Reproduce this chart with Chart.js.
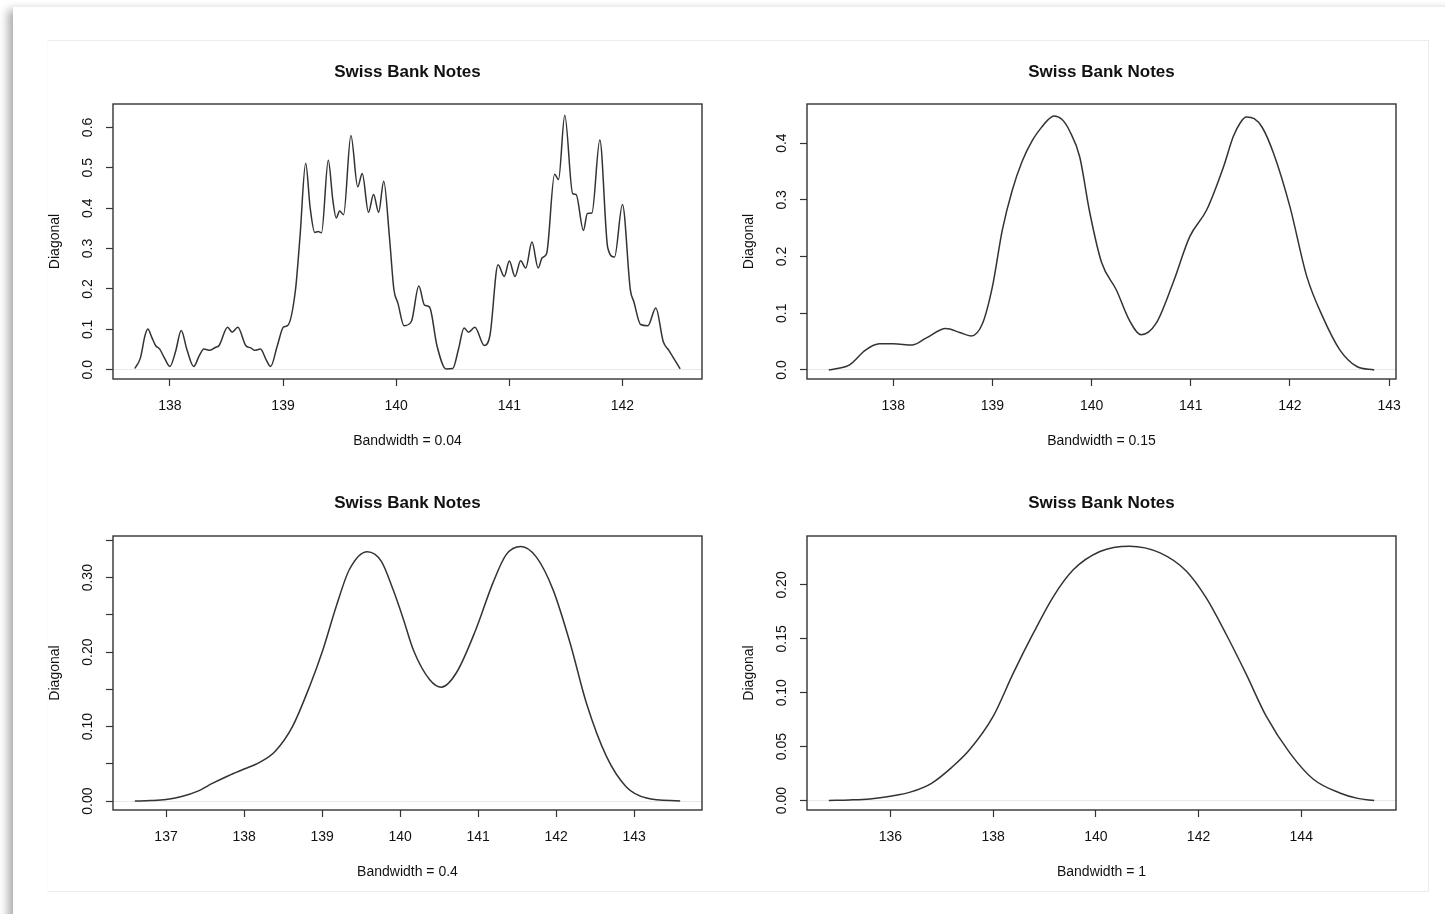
<!doctype html>
<html lang="en">
<head>
  <meta charset="utf-8">
  <title>Swiss Bank Notes</title>
  <script src="https://cdn.jsdelivr.net/npm/chart.js"></script>
  <style>
    html, body {
      margin: 0;
      padding: 0;
      background: #ffffff;
      width: 1445px;
      height: 914px;
      overflow: hidden;
    }
    /* sheet with a soft shadow on its left edge */
    #sheet {
      position: absolute;
      left: 13px;
      top: 7px;
      width: 1470px;
      height: 940px;
      background: #ffffff;
      box-shadow: -5px 3px 9px rgba(0, 0, 0, 0.33);
    }
    #frame {
      position: absolute;
      left: 47px;
      top: 40px;
      width: 1380px;
      height: 850px;
      border: 1px solid #ececec;
      border-left-color: #fbfbfb;
    }
    canvas { position: absolute; }
  </style>
</head>
<body>
  <div id="sheet"></div>
  <div id="frame"></div>
  <canvas id="bw004" width="680" height="410" style="left:40px;top:50px"></canvas>
  <canvas id="bw015" width="680" height="410" style="left:734px;top:50px"></canvas>
  <canvas id="bw04" width="680" height="410" style="left:40px;top:482px"></canvas>
  <canvas id="bw1" width="680" height="410" style="left:734px;top:482px"></canvas>

  <script>
    // Kernel density estimates of the Diagonal measurement, four bandwidths

    // bandwidth = 0.04
    const diag004 = [137.69, 137.74, 137.78, 137.805, 137.84, 137.873, 137.91, 137.95, 138.0, 138.05,
      138.10, 138.15, 138.21, 138.26, 138.30, 138.355, 138.40, 138.435, 138.51, 138.55,
      138.60, 138.67, 138.715, 138.75, 138.80, 138.85, 138.89, 138.95, 139.005, 139.04,
      139.11, 139.15, 139.20, 139.24, 139.28, 139.31, 139.34, 139.40, 139.44, 139.47,
      139.50, 139.535, 139.60, 139.66, 139.70, 139.755, 139.80, 139.845, 139.89, 139.94,
      139.98, 140.015, 140.07, 140.135, 140.20, 140.25, 140.295, 140.36, 140.44, 140.50,
      140.55, 140.60, 140.64, 140.695, 140.78, 140.83, 140.90, 140.955, 141.00, 141.05,
      141.10, 141.145, 141.20, 141.255, 141.29, 141.33, 141.40, 141.435, 141.49, 141.56,
      141.59, 141.655, 141.69, 141.73, 141.80, 141.87, 141.93, 142.00, 142.07, 142.10,
      142.16, 142.225, 142.295, 142.36, 142.41, 142.51];
    const dens004 = [0.003, 0.03, 0.085, 0.101, 0.08, 0.06, 0.051, 0.03, 0.008, 0.045,
      0.097, 0.05, 0.008, 0.035, 0.051, 0.048, 0.055, 0.06, 0.105, 0.093,
      0.105, 0.06, 0.054, 0.048, 0.051, 0.025, 0.008, 0.06, 0.106, 0.109,
      0.198, 0.33, 0.511, 0.40, 0.34, 0.342, 0.339, 0.519, 0.42, 0.376,
      0.393, 0.384, 0.58, 0.453, 0.486, 0.39, 0.434, 0.39, 0.467, 0.33,
      0.198, 0.165, 0.109, 0.12, 0.207, 0.16, 0.155, 0.06, 0.002, 0.003,
      0.05, 0.103, 0.093, 0.105, 0.06, 0.087, 0.26, 0.231, 0.269, 0.231,
      0.27, 0.252, 0.316, 0.252, 0.277, 0.288, 0.484, 0.471, 0.63, 0.436,
      0.434, 0.345, 0.387, 0.388, 0.569, 0.302, 0.279, 0.409, 0.197, 0.169,
      0.112, 0.109, 0.153, 0.07, 0.048, 0.002];

    // bandwidth = 0.15
    const diag015 = [137.35, 137.45, 137.56, 137.72, 137.86, 138.0, 138.195, 138.33, 138.53, 138.67,
      138.785, 138.90, 139.0, 139.10, 139.20, 139.30, 139.40, 139.50, 139.56, 139.62,
      139.70, 139.78, 139.88, 139.98, 140.10, 140.25, 140.38, 140.50, 140.65, 140.82,
      140.99, 141.16, 141.33, 141.43, 141.50, 141.56, 141.64, 141.72, 141.835, 142.0,
      142.17, 142.33, 142.505, 142.675, 142.85];
    const dens015 = [0.0, 0.003, 0.009, 0.035, 0.046, 0.046, 0.044, 0.056, 0.073, 0.066,
      0.06, 0.082, 0.147, 0.247, 0.317, 0.368, 0.404, 0.429, 0.441, 0.448,
      0.442, 0.421, 0.376, 0.279, 0.19, 0.141, 0.088, 0.062, 0.082, 0.153,
      0.235, 0.282, 0.358, 0.412, 0.436, 0.446, 0.443, 0.428, 0.382, 0.288,
      0.165, 0.094, 0.035, 0.006, 0.0];

    // bandwidth = 0.4
    const diag04 = [136.60, 136.80, 137.0, 137.20, 137.40, 137.60, 137.80, 138.0, 138.20, 138.40,
      138.62, 138.84, 139.01, 139.18, 139.35, 139.58, 139.76, 139.91, 140.04, 140.17,
      140.38, 140.53, 140.72, 140.97, 141.19, 141.36, 141.55, 141.745, 141.96, 142.18,
      142.39, 142.645, 142.90, 143.16, 143.59];
    const dens04 = [0.0, 0.0006, 0.002, 0.006, 0.013, 0.024, 0.034, 0.043, 0.052, 0.067,
      0.10, 0.154, 0.203, 0.261, 0.311, 0.335, 0.322, 0.284, 0.245, 0.203,
      0.163, 0.153, 0.172, 0.23, 0.293, 0.331, 0.342, 0.328, 0.284, 0.212,
      0.131, 0.06, 0.019, 0.004, 0.0];

    // bandwidth = 1
    const diag1 = [134.80, 135.20, 135.60, 136.0, 136.40, 136.80, 137.20, 137.54, 138.0, 138.39,
      138.78, 139.17, 139.56, 140.08, 140.66, 141.24, 141.76, 142.15, 142.54, 142.93,
      143.32, 143.78, 144.23, 144.75, 145.10, 145.42];
    const dens1 = [0.0, 0.0005, 0.0015, 0.004, 0.008, 0.016, 0.031, 0.047, 0.078, 0.118,
      0.155, 0.189, 0.214, 0.231, 0.236, 0.230, 0.213, 0.188, 0.154, 0.117,
      0.078, 0.044, 0.020, 0.007, 0.002, 0.0];

    // axis ticks
    const xTicks004 = [138, 139, 140, 141, 142];
    const yTicks004 = [0, 0.1, 0.2, 0.3, 0.4, 0.5, 0.6];
    const yLabels004 = ["0.0", "0.1", "0.2", "0.3", "0.4", "0.5", "0.6"];

    const xTicks015 = [138, 139, 140, 141, 142, 143];
    const yTicks015 = [0, 0.1, 0.2, 0.3, 0.4];
    const yLabels015 = ["0.0", "0.1", "0.2", "0.3", "0.4"];

    const xTicks04 = [137, 138, 139, 140, 141, 142, 143];
    const yTicks04 = [0, 0.05, 0.1, 0.15, 0.2, 0.25, 0.3, 0.35];
    const yLabels04 = ["0.00", "", "0.10", "", "0.20", "", "0.30", ""];

    const xTicks1 = [136, 138, 140, 142, 144];
    const yTicks1 = [0, 0.05, 0.1, 0.15, 0.2];
    const yLabels1 = ["0.00", "0.05", "0.10", "0.15", "0.20"];

    const FONT = '"Liberation Sans", Arial, Helvetica, sans-serif';
    const INK = "#111111";
    const LINE = "#333333";

    Chart.defaults.font.family = FONT;
    Chart.defaults.color = INK;

    // box around the plot region and R-style vertical y tick labels
    const rFrame = {
      id: "rFrame",
      afterDraw(chart, args, o) {
        const { ctx, chartArea: a } = chart;
        const y = chart.scales.y;
        ctx.save();
        ctx.strokeStyle = LINE;
        ctx.lineWidth = 1.4;
        ctx.strokeRect(a.left, a.top, a.right - a.left, a.bottom - a.top);
        ctx.fillStyle = INK;
        ctx.font = "14px " + FONT;
        ctx.textAlign = "center";
        ctx.textBaseline = "middle";
        o.ticks.forEach((v, i) => {
          const txt = o.labels[i];
          if (!txt) return;
          ctx.save();
          ctx.translate(a.left - 25, y.getPixelForValue(v));
          ctx.rotate(-Math.PI / 2);
          ctx.fillText(txt, 0, 0);
          ctx.restore();
        });
        ctx.restore();
      }
    };

    function densityPlot(id, xs, ys, bw, range, xTicks, yTicks, yLabels, lay) {
      const pts = xs.map((x, i) => ({ x: x, y: ys[i] }));
      const titleTop = lay.titleY - 10.2;
      return new Chart(document.getElementById(id), {
        type: "line",
        data: {
          datasets: [{
            data: pts,
            borderColor: LINE,
            borderWidth: 1.5,
            pointRadius: 0,
            fill: false,
            cubicInterpolationMode: "monotone"
          }]
        },
        options: {
          responsive: false,
          animation: false,
          events: [],
          layout: { padding: { left: 0, top: 0, right: 18, bottom: 0 } },
          plugins: {
            legend: { display: false },
            tooltip: { enabled: false },
            title: {
              display: true,
              text: "Swiss Bank Notes",
              fullSize: false,
              color: INK,
              font: { size: 17, weight: "bold" },
              padding: { top: titleTop, bottom: lay.areaTop - titleTop - 20.4 }
            },
            rFrame: { ticks: yTicks, labels: yLabels }
          },
          scales: {
            x: {
              type: "linear",
              min: range[0],
              max: range[1],
              afterBuildTicks: s => { s.ticks = xTicks.map(v => ({ value: v })); },
              afterFit: s => { s.height = lay.canvasH - lay.areaBottom; },
              ticks: {
                autoSkip: false,
                maxRotation: 0,
                padding: 12,
                color: INK,
                font: { size: 14 },
                callback: v => String(v)
              },
              grid: { drawOnChartArea: false, color: LINE, tickLength: 7, tickWidth: 1.2 },
              border: { display: false },
              title: {
                display: true,
                text: "Bandwidth = " + bw,
                color: INK,
                font: { size: 14 },
                padding: { top: 0, bottom: lay.canvasH - lay.xTitleY - 8.4 }
              }
            },
            y: {
              type: "linear",
              min: range[2],
              max: range[3],
              afterBuildTicks: s => { s.ticks = yTicks.map(v => ({ value: v })); },
              afterFit: s => { s.width = 73; },
              ticks: { display: false },
              grid: {
                drawOnChartArea: true,
                color: c => (c.tick && c.tick.value === 0 ? "#e9e9e9" : "rgba(0,0,0,0)"),
                lineWidth: 1,
                tickColor: LINE,
                tickLength: 7,
                tickWidth: 1.2
              },
              border: { display: false },
              title: {
                display: true,
                text: "Diagonal",
                color: INK,
                font: { size: 14 },
                padding: { top: 6.6, bottom: 0 }
              }
            }
          }
        },
        plugins: [rFrame]
      });
    }

    const topRow = { canvasH: 410, areaTop: 54, areaBottom: 329, titleY: 22, xTitleY: 391.5 };
    const bottomRow = { canvasH: 410, areaTop: 54, areaBottom: 328, titleY: 21, xTitleY: 390.5 };

    densityPlot("bw004", diag004, dens004, "0.04", [137.497, 142.703, -0.023, 0.658],
      xTicks004, yTicks004, yLabels004, topRow);
    densityPlot("bw015", diag015, dens015, "0.15", [137.13, 143.07, -0.016, 0.469],
      xTicks015, yTicks015, yLabels015, topRow);
    densityPlot("bw04", diag04, dens04, "0.4", [136.32, 143.87, -0.012, 0.356],
      xTicks04, yTicks04, yLabels04, bottomRow);
    densityPlot("bw1", diag1, dens1, "1", [134.375, 145.845, -0.0088, 0.2454],
      xTicks1, yTicks1, yLabels1, bottomRow);
  </script>
</body>
</html>
